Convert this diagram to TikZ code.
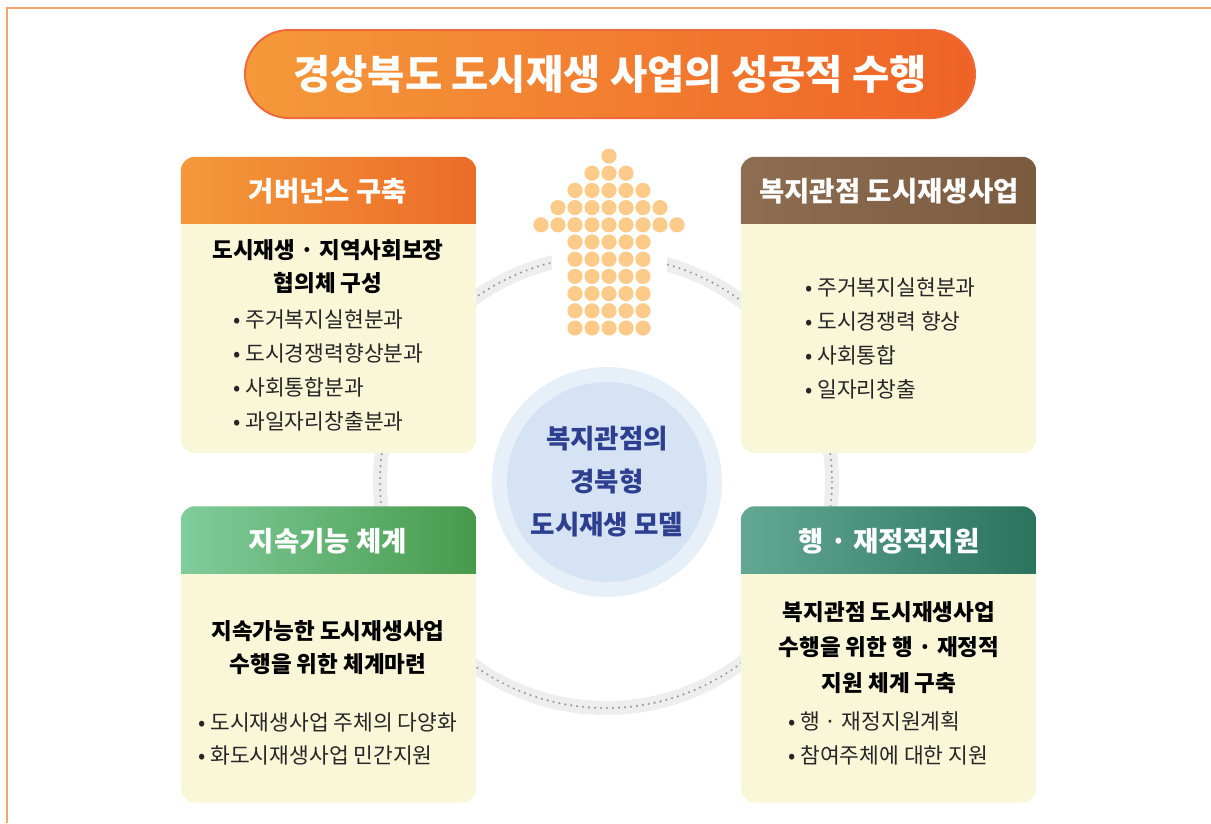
\documentclass[tikz,border=0pt]{standalone}
\usepackage{fontspec}
\setmainfont{Noto Sans CJK KR}
\usetikzlibrary{positioning}

\definecolor{frameorange}{HTML}{F7A46B}
\definecolor{cream}{HTML}{FAF6D8}
\definecolor{dotorange}{HTML}{FCCB89}
\definecolor{ringgrey}{HTML}{EEEEEE}
\definecolor{ringdot}{HTML}{9C9C9C}
\definecolor{navy}{HTML}{2F3F8F}
\definecolor{coreout}{HTML}{E7EFF8}
\definecolor{corein}{HTML}{D5E3F4}
\definecolor{titleL}{HTML}{F5993A}
\definecolor{titleR}{HTML}{EF6326}
\definecolor{titleB}{HTML}{EE6A3A}
\definecolor{govL}{HTML}{F4993B}
\definecolor{govM}{HTML}{F08A33}
\definecolor{govR}{HTML}{EB6C27}
\definecolor{welL}{HTML}{8E6E52}
\definecolor{welM}{HTML}{A68D72}
\definecolor{welR}{HTML}{7A5B3F}
\definecolor{susL}{HTML}{80CC9C}
\definecolor{susM}{HTML}{66B07A}
\definecolor{susR}{HTML}{479A4C}
\definecolor{finL}{HTML}{62A893}
\definecolor{finM}{HTML}{468F78}
\definecolor{finR}{HTML}{2C735E}

\tikzset{
  panel/.style={fill=cream, rounded corners=14pt, minimum width=295pt, minimum height=296pt, inner sep=0pt},
  headtext/.style={text=white, font=\bfseries\fontsize{27.5}{30}\selectfont},
  boldtext/.style={align=center, text=black, font=\bfseries\fontsize{22.5}{33}\selectfont},
  listtext/.style={anchor=west, align=left, inner sep=0pt, text=black!85, font=\fontsize{21.5}{34}\selectfont},
}

\begin{document}
\begin{tikzpicture}[x=1pt, y=-1pt]
	\useasboundingbox (0,0) rectangle (1211,823);
	\draw [frameorange, line width=1.5pt] (7,823) -- (7,8) -- (1211,8);

	\node [shade, left color=titleL, right color=titleR, draw=titleB, line width=2pt, rounded corners=44pt,
	       minimum width=730pt, minimum height=88pt, text=white, font=\bfseries\fontsize{40.5}{44}\selectfont]
	      (title) at (610,74) {경상북도 도시재생 사업의 성공적 수행};

	% ring behind everything
	\draw [ringgrey, line width=14pt] (606,482) circle [radius=226];
	\draw [ringdot, line width=2.4pt, line cap=round, dash pattern=on 0pt off 6pt] (606,482) circle [radius=226];
	\fill [white] (552,238) rectangle (667,300);

	% arrow of dots
	\foreach \r/\n in {0/0, 1/1, 2/2, 3/3, 4/4, 5/2, 6/2, 7/2, 8/2, 9/2, 10/2}
		\foreach \c in {-\n,...,\n}
			\fill [dotorange] (609+17*\c, 156+17.2*\r) circle [radius=7.6];

	\node [panel] (gov) at (328.5,305) {};
	\node [panel] (wel) at (888.5,305) {};
	\node [panel] (sus) at (328.5,654.5) {};
	\node [panel] (fin) at (888.5,654.5) {};

	\foreach \p/\lc/\mc/\rc in {gov/govL/govM/govR, wel/welL/welM/welR, sus/susL/susM/susR, fin/finL/finM/finR}{
		\begin{scope}
			\clip [rounded corners=14pt] (\p.north west) rectangle (\p.south east);
			\shade [left color=\lc, middle color=\mc, right color=\rc] (\p.north west) rectangle ([yshift=-67pt]\p.north east);
		\end{scope}
	}

	\node [headtext] (govhead) at (328,191) {거버넌스 구축};
	\node [headtext] (welhead) at (889,191) {복지관점 도시재생사업};
	\node [headtext] (sushead) at (328,541) {지속기능 체계};
	\node [headtext] (finhead) at (889,541) {행 · 재정적지원};

	\node [boldtext] (govmain) at (328,266.5) {도시재생 · 지역사회보장\\협의체 구성};
	\node [listtext] (govlist) at (233,370.5) {• 주거복지실현분과\\• 도시경쟁력향상분과\\• 사회통합분과\\• 과일자리창출분과};

	\node [listtext] (wellist) at (805,338.5) {• 주거복지실현분과\\• 도시경쟁력 향상\\• 사회통합\\• 일자리창출};

	\node [boldtext] (susmain) at (328,648) {지속가능한 도시재생사업\\수행을 위한 체계마련};
	\node [listtext, font=\fontsize{21.5}{33}\selectfont] (suslist) at (198,738.5) {• 도시재생사업 주체의 다양화\\• 화도시재생사업 민간지원};

	\node [boldtext, font=\bfseries\fontsize{22.5}{35.5}\selectfont] (finmain) at (889,647.5) {복지관점 도시재생사업\\수행을 위한 행 · 재정적\\지원 체계 구축};
	\node [listtext] (finlist) at (788,738) {• 행 · 재정지원계획\\• 참여주체에 대한 지원};

	\node [circle, fill=coreout, minimum size=230pt] (core) at (607,482) {};
	\fill [corein] (core.center) circle [radius=100];
	\node [align=center, text=navy, font=\bfseries\fontsize{26.5}{43}\selectfont] (coretext) at (core.center) {복지관점의\\경북형\\도시재생 모델};
\end{tikzpicture}
\end{document}
